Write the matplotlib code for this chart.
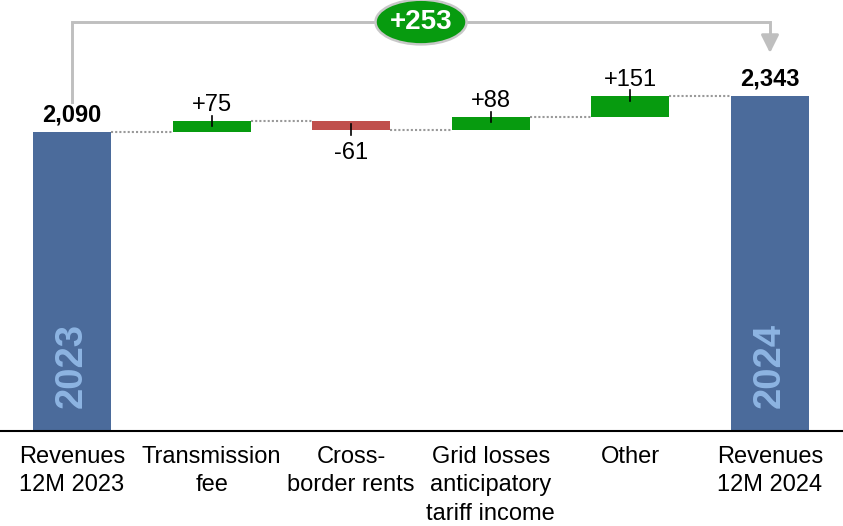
import matplotlib
matplotlib.use('agg')
import matplotlib.pyplot as plt
from matplotlib.patches import Ellipse

plt.rcParams['font.family'] = ['Liberation Sans', 'DejaVu Sans']

# data
categories = ['Revenues\n12M 2023', 'Transmission\nfee', 'Cross-\nborder rents',
              'Grid losses\nanticipatory\ntariff income', 'Other', 'Revenues\n12M 2024']
start_value = 2090
deltas = [75, -61, 88, 151]
end_value = 2343
year_labels = ['2023', '2024']

blue = '#4b6b9b'
green = '#079b0f'
red = '#c0504d'
gray = '#bfbfbf'
year_color = '#8db4e2'

fig = plt.figure(figsize=(8.43, 5.26), dpi=100)
ax = fig.add_axes([0, 95 / 526, 1, 431 / 526])
ax.set_xlim(-0.516, 5.523)
ax.set_ylim(0, 3010)

width = 0.56

# totals
ax.bar(0, start_value, width=width, color=blue)
ax.bar(5, end_value, width=width, color=blue)
ax.annotate(f'{start_value:,}', (0, start_value), xytext=(0, 7.5), textcoords='offset points',
            ha='center', va='baseline', fontsize=17, fontweight='bold')
ax.annotate(f'{end_value:,}', (5, end_value), xytext=(0, 7.5), textcoords='offset points',
            ha='center', va='baseline', fontsize=17, fontweight='bold')
for x, val, lab in [(0, start_value, year_labels[0]), (5, end_value, year_labels[1])]:
    ax.text(x, 457, lab, rotation=90, ha='center', va='center', fontsize=27.5,
            fontweight='bold', color=year_color)

# deltas
level = start_value
levels = [start_value]
for i, d in enumerate(deltas, start=1):
    new_level = level + d
    bottom = min(level, new_level)
    ax.bar(i, abs(d), bottom=bottom, width=width, color=green if d > 0 else red)
    # small tick at the end of the change
    ax.plot([i, i], [new_level - 37, new_level + 37], color='black', lw=1.2)
    if d > 0:
        ax.annotate(f'+{d}', (i, new_level), xytext=(0, 7), textcoords='offset points',
                    ha='center', va='baseline', fontsize=17)
    else:
        ax.annotate(f'{d}', (i, new_level), xytext=(0, -8.5), textcoords='offset points',
                    ha='center', va='top', fontsize=17)
    level = new_level
    levels.append(level)

# dotted connectors
for i, lv in enumerate(levels):
    ax.plot([i + width / 2, i + 1 - width / 2], [lv, lv], color='#999999', lw=1.5,
            linestyle=(0, (1, 1)))

# bracket with total change
top_y = 2856
ax.plot([0, 0, 5, 5], [start_value + 208, top_y, top_y, top_y - 100], color=gray, lw=2.1,
        solid_joinstyle='miter', clip_on=False)
ax.annotate('', xy=(5, end_value + 297), xytext=(5, top_y - 100),
            arrowprops=dict(arrowstyle='-|>', color=gray, lw=2.1, mutation_scale=27,
                            shrinkA=0, shrinkB=0))
ax.add_patch(Ellipse((2.5, top_y), 0.652, 312, facecolor=green, edgecolor='#c8c8c8',
                     lw=1.8, zorder=5, clip_on=False))
ax.text(2.5, top_y, f'+{end_value - start_value}', ha='center', va='center',
        fontsize=20, fontweight='bold', color='white', zorder=6)

# axes styling
for s in ['top', 'right', 'left']:
    ax.spines[s].set_visible(False)
ax.spines['bottom'].set_linewidth(1.5)
ax.set_yticks([])
ax.set_xticks(range(len(categories)))
ax.set_xticklabels(categories, fontsize=17, linespacing=1.36)
ax.tick_params(axis='x', length=0, pad=11)

fig.savefig('out.png', dpi=100)
